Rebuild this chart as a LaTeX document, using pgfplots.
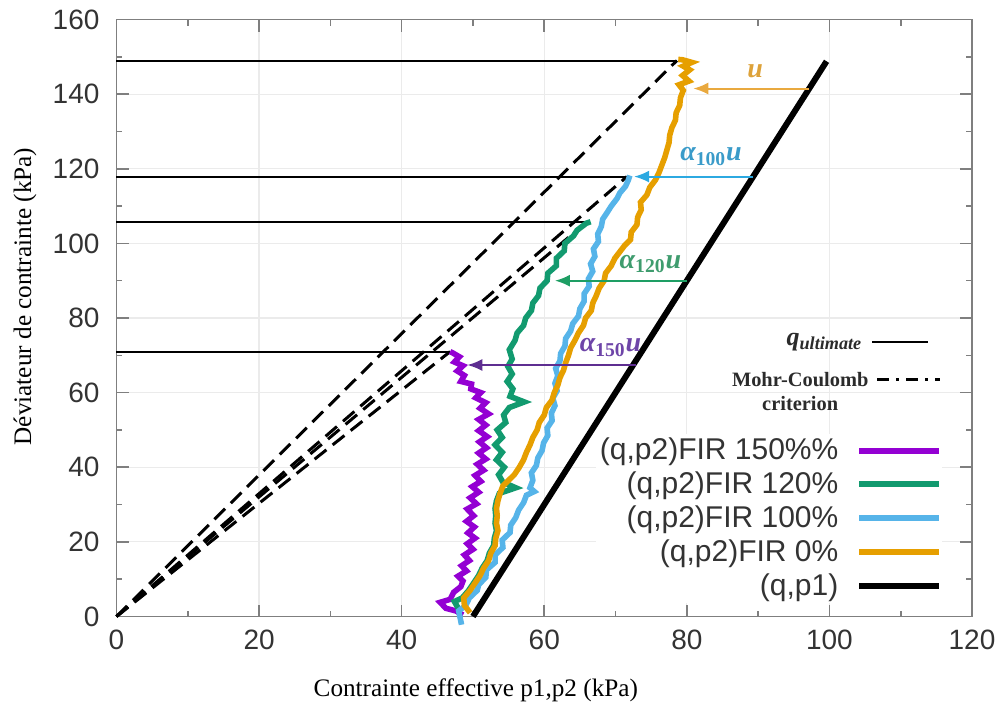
\documentclass[border=0pt]{standalone}
\usepackage{pgfplots}
\pgfplotsset{compat=1.18}
\usepackage{fontspec}
\setmainfont{Liberation Sans}
\newfontfamily\seriffont{Liberation Serif}
\usetikzlibrary{arrows.meta}
\tikzset{myarrow/.style={-{Latex[length=7.5pt,width=6pt]}}}
\definecolor{cpurple}{HTML}{9400D3}
\definecolor{cgreen}{HTML}{129A6F}
\definecolor{cblue}{HTML}{56B4E9}
\definecolor{corange}{HTML}{E69F00}
\definecolor{aorange}{HTML}{E9A93F}
\definecolor{ablue}{HTML}{2CA9E1}
\definecolor{agreen}{HTML}{1E9E64}
\definecolor{apurple}{HTML}{5E2E91}
\definecolor{torange}{HTML}{DDA23A}
\definecolor{tblue}{HTML}{3A9BC9}
\definecolor{tgreen}{HTML}{3F9C6E}
\definecolor{tpurple}{HTML}{6E45A8}
\definecolor{gridgray}{HTML}{EBEBEB}
\definecolor{axisgray}{HTML}{7F7F7F}
\definecolor{ticktext}{HTML}{333333}
\definecolor{annot}{HTML}{2B2B2B}
\begin{document}
\begin{tikzpicture}
\useasboundingbox (-58.25pt,-48.25pt) rectangle (444.75pt,308.25pt);
\begin{axis}[
  at={(0pt,0pt)}, anchor=south west,
  scale only axis, width=427.75pt, height=298.5pt,
  xmin=0, xmax=120, ymin=0, ymax=160,
  xtick={0,20,...,120}, ytick={0,20,...,160},
  minor x tick num=1, minor y tick num=1,
  tick align=inside,
  major tick length=6pt, minor tick length=3pt,
  xmajorgrids, ymajorgrids,
  major grid style={color=gridgray, line width=0.6pt},
  axis line style={draw=axisgray, line width=0.8pt},
  tick style={color=axisgray, line width=0.8pt},
  ticklabel style={font=\fontsize{14}{16}\selectfont, text=ticktext},
  yticklabel style={xshift=-5pt},
  xticklabel style={yshift=-3pt},
  /pgf/number format/assume math mode=true,
  clip=false,
  xlabel={Contrainte effective p1,p2 (kPa)},
  ylabel={Déviateur de contrainte (kPa)},
  xlabel style={font=\seriffont\fontsize{12.6}{14}\selectfont, at={(rel axis cs:0.42,-0.1231)}, anchor=center},
  ylabel style={font=\seriffont\fontsize{12.6}{14}\selectfont, at={(rel axis cs:-0.107,0.536)}, anchor=center},
  legend cell align=right, legend plot pos=right,
  legend image code/.code={\draw[#1,line width=3pt] plot coordinates {(0pt,0pt) (40pt,0pt)};},
  legend style={at={(0.9658,0.0225)}, anchor=south east, draw=none, fill=white,
    font=\fontsize{15}{17}\selectfont, text=ticktext, row sep=0.6pt, column sep=7pt,
    inner sep=0pt},
]
\addplot[black, line width=1pt, forget plot] coordinates {(0,149.0) (78.6,149.0)};
\addplot[black, line width=1pt, forget plot] coordinates {(0,117.9) (71.6,117.9)};
\addplot[black, line width=1pt, forget plot] coordinates {(0,105.6) (65.9,105.6)};
\addplot[black, line width=1pt, forget plot] coordinates {(0,71.0) (46.8,71.0)};
\addplot[black, line width=1.5pt, dash pattern=on 7.5pt off 4pt, forget plot] coordinates {(0,0) (78.6,149.0)};
\addplot[black, line width=1.5pt, dash pattern=on 7.5pt off 4pt, forget plot] coordinates {(0,0) (71.6,117.9)};
\addplot[black, line width=1.5pt, dash pattern=on 7.5pt off 4pt, forget plot] coordinates {(0,0) (65.9,105.6)};
\addplot[black, line width=1.5pt, dash pattern=on 7.5pt off 4pt, forget plot] coordinates {(0,0) (46.8,71.0)};
\addplot[cpurple, line width=2.8pt] coordinates {
(48.6,0.4) (47.6,1.5) (46.2,2.2) (45.4,3.8) (46.8,4.6) (47.3,6.5) (48.3,8.0) (48.6,9.5) (47.9,10.8) (49.1,12.2) (48.4,13.6) (49.5,15.0) (48.8,16.5) (50.0,18.0) (49.2,19.5) (50.3,21.0) (49.3,22.4) (50.2,24.0) (49.1,25.5) (50.1,27.0) (49.2,28.8) (50.5,30.2) (49.6,31.8) (50.8,33.3) (49.9,34.8) (51.1,36.2) (50.3,37.8) (51.5,39.2) (50.6,40.8) (51.8,42.2) (50.8,43.8) (51.9,45.2) (50.9,46.8) (52.0,48.2) (50.8,49.8) (51.8,51.3) (50.8,52.8) (52.2,54.3) (51.0,55.8) (51.8,57.3) (50.4,58.6) (51.1,60.0) (49.7,61.0) (49.8,62.3) (48.3,63.0) (48.8,64.6) (47.8,65.8) (48.6,67.2) (47.4,68.2) (48.1,69.6) (47.2,70.6) (46.8,71.0)};
\addlegendentry{(q,p2)FIR 150\%\%}
\addplot[cgreen, line width=2.8pt] coordinates {
(48.0,2.0) (47.4,4.0) (48.5,5.0) (49.4,7.0) (50.1,9.0) (50.8,11.0) (51.3,13.0) (52.0,15.0) (52.3,17.0) (52.9,19.0) (53.0,21.0) (53.3,23.0) (53.1,25.0) (53.2,27.0) (53.1,29.0) (53.3,31.0) (53.7,33.0) (56.0,34.5) (54.2,36.0) (53.6,38.0) (54.4,40.0) (53.3,42.0) (54.1,44.0) (53.1,46.0) (54.1,48.0) (53.4,50.0) (54.6,52.0) (54.3,54.0) (55.1,56.0) (57.2,57.5) (55.2,59.0) (55.6,61.0) (54.8,63.0) (55.5,65.0) (54.9,67.0) (55.5,69.0) (55.1,71.5) (55.9,74.0) (56.2,76.0) (57.1,78.0) (57.4,80.0) (58.2,82.0) (58.4,84.0) (59.2,86.0) (59.4,88.0) (60.4,90.0) (60.5,92.0) (61.7,94.0) (61.7,96.0) (62.8,98.0) (62.9,100.0) (64.1,102.0) (64.6,103.5) (65.9,105.4) (66.5,105.8)};
\addlegendentry{(q,p2)FIR 120\%}
\addplot[cblue, line width=2.8pt] coordinates {
(48.4,-2.2) (48.0,1.5) (49.0,3.0) (49.5,5.0) (50.6,7.0) (50.8,8.5) (51.8,10.5) (51.9,12.5) (53.1,14.5) (53.1,16.5) (54.2,18.5) (54.1,20.5) (55.2,22.5) (55.3,24.5) (56.0,26.5) (56.4,28.5) (57.1,30.5) (57.5,32.5) (58.6,33.5) (58.0,34.5) (58.4,36.5) (58.2,38.5) (58.9,40.5) (59.1,42.5) (59.7,44.5) (59.9,46.5) (60.5,48.5) (60.4,50.5) (61.1,52.5) (61.0,54.5) (61.5,56.5) (61.2,58.5) (61.8,60.5) (61.5,62.5) (61.9,64.5) (61.6,66.5) (62.2,68.5) (62.3,70.5) (62.9,72.5) (63.0,74.5) (63.7,76.5) (64.0,78.5) (64.8,80.5) (65.0,82.5) (65.6,84.5) (65.6,86.5) (66.3,88.5) (66.2,90.5) (66.8,92.5) (66.5,94.5) (67.1,96.5) (66.9,98.5) (67.6,100.5) (67.5,102.5) (68.0,104.5) (68.2,106.5) (68.9,108.5) (69.4,110.0) (70.2,112.0) (70.6,113.5) (71.4,115.3) (71.8,117.0) (72.0,118.2)};
\addlegendentry{(q,p2)FIR 100\%}
\addplot[corange, line width=2.8pt] coordinates {
(49.6,1.0) (48.8,3.0) (48.7,5.0) (49.6,7.0) (50.3,9.0) (51.0,11.0) (51.5,13.0) (52.2,15.0) (52.5,17.0) (53.1,19.0) (53.2,21.0) (53.5,23.0) (53.3,25.0) (53.4,27.0) (53.3,29.0) (53.5,31.0) (53.8,33.0) (54.2,35.0) (55.0,36.5) (55.8,38.0) (56.5,40.0) (57.1,42.0) (57.5,44.0) (58.0,46.0) (58.4,48.0) (59.0,50.0) (59.3,52.0) (60.0,54.0) (60.3,56.0) (61.1,58.0) (61.4,60.0) (61.9,62.0) (62.2,64.0) (62.7,66.0) (63.0,68.0) (63.4,70.0) (63.7,72.0) (64.3,74.0) (64.8,76.0) (65.5,78.0) (65.8,80.0) (66.6,82.0) (66.8,84.0) (67.3,86.0) (67.7,88.0) (68.4,90.0) (68.6,92.0) (69.4,94.0) (69.9,96.0) (70.7,98.0) (71.3,99.5) (72.1,101.0) (72.2,103.0) (73.0,105.0) (73.1,107.0) (73.6,109.0) (73.5,111.0) (74.4,113.0) (74.8,115.0) (75.6,117.0) (76.1,119.0) (76.5,121.0) (76.9,123.0) (77.2,125.0) (77.5,127.0) (77.6,129.0) (77.9,131.0) (78.4,133.0) (78.5,135.0) (79.0,137.0) (79.1,139.0) (79.5,141.0) (78.9,142.5) (80.3,143.5) (79.4,145.0) (80.4,146.5) (79.5,147.5) (80.7,148.5) (79.4,149.2) (78.8,149.3)};
\addlegendentry{(q,p2)FIR 0\%}
\addplot[black, line width=3pt] coordinates {(50,0) (99.6,148.8)};
\addlegendentry{(q,p1)}
\addplot[aorange, line width=1pt, myarrow, forget plot] coordinates {(97.1,141.5) (80.9,141.5)};
\addplot[ablue, line width=1pt, myarrow, forget plot] coordinates {(89.3,117.9) (72.6,117.9)};
\addplot[agreen, line width=1pt, myarrow, forget plot] coordinates {(80.0,90.0) (61.5,90.0)};
\addplot[apurple, line width=1pt, myarrow, forget plot] coordinates {(72.9,67.4) (49.2,67.4)};
\node[text=torange, font=\seriffont\bfseries\itshape\fontsize{14}{16}\selectfont] at (axis cs:89.6,146) {u};
\node[text=tblue, font=\seriffont\bfseries\itshape\fontsize{14}{16}\selectfont] at (axis cs:83.4,123.3) {α\textsubscript{\upshape 100}u};
\node[text=tgreen, font=\seriffont\bfseries\itshape\fontsize{14}{16}\selectfont] at (axis cs:74.9,94.4) {α\textsubscript{\upshape 120}u};
\node[text=tpurple, font=\seriffont\bfseries\itshape\fontsize{14}{16}\selectfont] at (axis cs:69.3,72.1) {α\textsubscript{\upshape 150}u};
\node[anchor=east, text=annot, font=\seriffont\bfseries\itshape\fontsize{13}{15}\selectfont] at (axis cs:105.6,73.6) {q\textsubscript{ultimate}};
\addplot[black, line width=1pt, forget plot] coordinates {(106.0,73.6) (113.8,73.6)};
\node[text=annot, font=\seriffont\bfseries\fontsize{10.2}{12}\selectfont] at (axis cs:95.9,63.4) {Mohr-Coulomb};
\node[text=annot, font=\seriffont\bfseries\fontsize{10.2}{12}\selectfont] at (axis cs:95.9,57.2) {criterion};
\addplot[black, line width=1.5pt, dash pattern=on 6pt off 3.5pt on 1.5pt off 3.5pt, forget plot] coordinates {(106.7,63.4) (115.5,63.4)};
\end{axis}
\end{tikzpicture}
\end{document}
